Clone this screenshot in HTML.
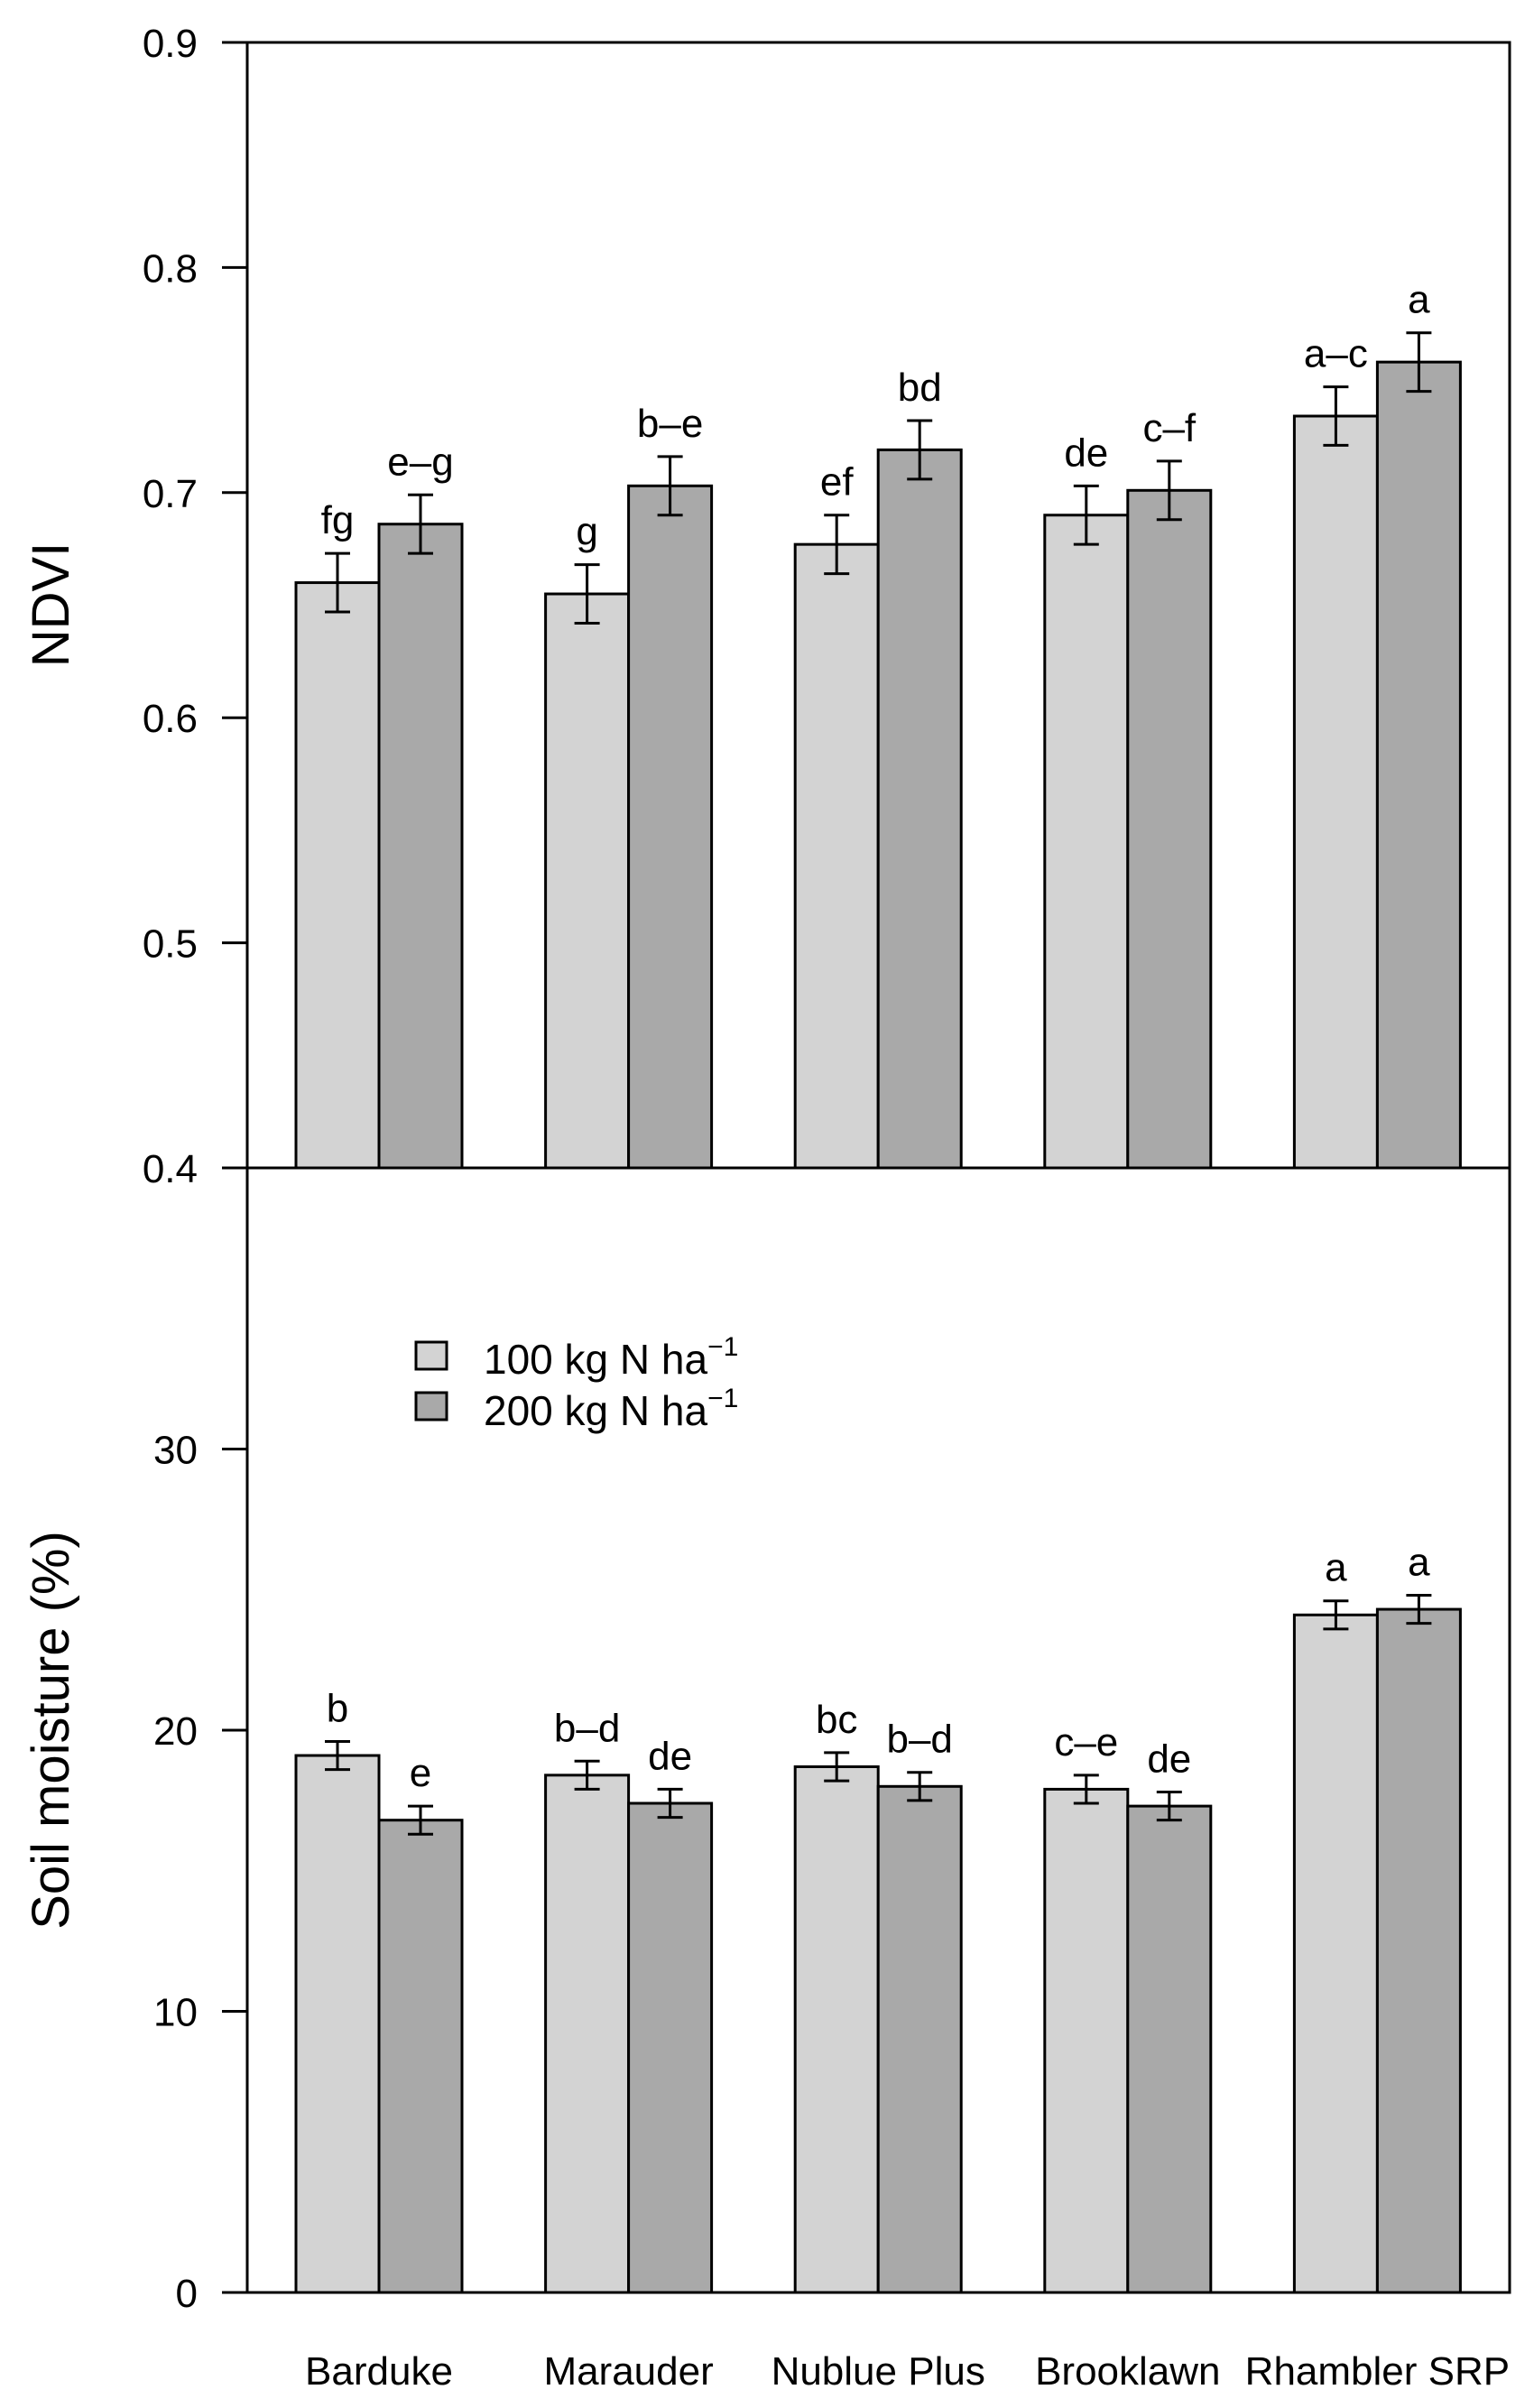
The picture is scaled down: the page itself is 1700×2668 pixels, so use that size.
<!DOCTYPE html>
<html><head><meta charset="utf-8"><style>html,body{margin:0;padding:0;background:#fff}svg{display:block}text{font-family:"Liberation Sans",sans-serif;fill:#000}</style></head>
<body>
<svg id="s" width="1700" height="2668" viewBox="0 0 1700 2668" xmlns="http://www.w3.org/2000/svg"></svg>
<script>
var s=document.getElementById('s'),h='';
var L=274,R=1673,T=47,M=1294,B=2540;
var bw=92,x0=328,per=276.6;
function yN(v){return M-(v-0.4)/0.5*(M-T);}
function yS(v){return B-v/40*(B-M);}
var nd=[[0.660,0.686],[0.655,0.703],[0.677,0.719],[0.690,0.701],[0.734,0.758]];
var nl=[["fg","e\u2013g"],["g","b\u2013e"],["ef","bd"],["de","c\u2013f"],["a\u2013c","a"]];
var sd=[[19.1,16.8],[18.4,17.4],[18.7,18.0],[17.9,17.3],[24.1,24.3]];
var sl=[["b","e"],["b\u2013d","de"],["bc","b\u2013d"],["c\u2013e","de"],["a","a"]];
var names=["Barduke","Marauder","Nublue Plus","Brooklawn","Rhambler SRP"];
var cols=["#d3d3d3","#a9a9a9"];
function panel(d,lab,f,e){
 for(var g=0;g<5;g++)for(var k=0;k<2;k++){
  var x=x0+g*per+k*bw,v=d[g][k],yt=f(v),yb=(f===yN?M:B);
  h+='<rect x="'+x+'" y="'+yt+'" width="'+bw+'" height="'+(yb-yt)+'" fill="'+cols[k]+'" stroke="#000" stroke-width="3"/>';
  var cx=x+bw/2,y1=f(v+e),y2=f(v-e);
  h+='<line x1="'+cx+'" y1="'+y1+'" x2="'+cx+'" y2="'+y2+'" stroke="#000" stroke-width="3"/>';
  h+='<line x1="'+(cx-14)+'" y1="'+y1+'" x2="'+(cx+14)+'" y2="'+y1+'" stroke="#000" stroke-width="3"/>';
  h+='<line x1="'+(cx-14)+'" y1="'+y2+'" x2="'+(cx+14)+'" y2="'+y2+'" stroke="#000" stroke-width="3"/>';
  h+='<text x="'+cx+'" y="'+(y1-22)+'" font-size="44" text-anchor="middle">'+lab[g][k]+'</text>';
 }
}
panel(nd,nl,yN,0.013);
panel(sd,sl,yS,0.5);
h+='<rect x="'+L+'" y="'+T+'" width="'+(R-L)+'" height="'+(B-T)+'" fill="none" stroke="#000" stroke-width="3"/>';
h+='<line x1="'+L+'" y1="'+M+'" x2="'+R+'" y2="'+M+'" stroke="#000" stroke-width="3"/>';
["0.4","0.5","0.6","0.7","0.8","0.9"].forEach(function(t){var y=yN(+t);
 h+='<line x1="246" y1="'+y+'" x2="'+L+'" y2="'+y+'" stroke="#000" stroke-width="3"/>';
 h+='<text x="219" y="'+(y+16)+'" font-size="44" text-anchor="end">'+t+'</text>';});
[0,10,20,30].forEach(function(t){var y=yS(t);
 h+='<line x1="246" y1="'+y+'" x2="'+L+'" y2="'+y+'" stroke="#000" stroke-width="3"/>';
 h+='<text x="219" y="'+(y+16)+'" font-size="44" text-anchor="end">'+t+'</text>';});
h+='<text transform="translate(76,670) rotate(-90)" font-size="58" text-anchor="middle">NDVI</text>';
h+='<text transform="translate(76,1917) rotate(-90)" font-size="58" text-anchor="middle">Soil moisture (%)</text>';
for(var g=0;g<5;g++)h+='<text x="'+(x0+g*per+bw)+'" y="2642" font-size="44" text-anchor="middle">'+names[g]+'</text>';
h+='<rect x="461" y="1487" width="34" height="30" fill="#d3d3d3" stroke="#000" stroke-width="3"/>';
h+='<rect x="461" y="1543" width="34" height="30" fill="#a9a9a9" stroke="#000" stroke-width="3"/>';
h+='<text x="536" y="1522" font-size="46">100 kg N ha<tspan dy="-20" font-size="30">\u22121</tspan></text>';
h+='<text x="536" y="1579" font-size="46">200 kg N ha<tspan dy="-20" font-size="30">\u22121</tspan></text>';
s.innerHTML=h;
</script>
</body></html>
